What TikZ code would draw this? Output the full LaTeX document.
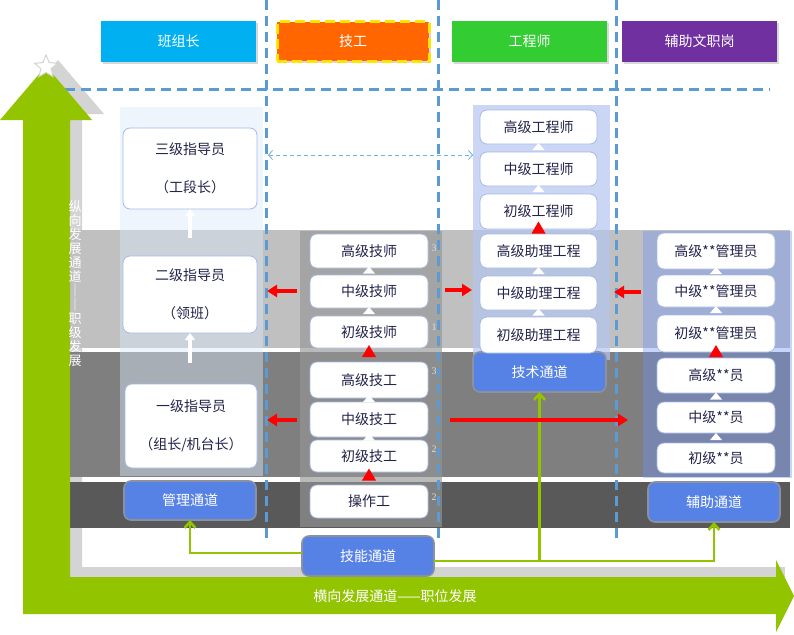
\documentclass[tikz,border=0pt]{standalone}
\usepackage{fontspec}
\setmainfont{Liberation Serif}
\newfontfamily\cjk{Noto Sans CJK SC}
\usetikzlibrary{arrows.meta,shapes.geometric,calc,shadows}
\definecolor{hdblue}{RGB}{0,176,240}
\definecolor{hdorange}{RGB}{255,102,0}
\definecolor{hdgreen}{RGB}{51,204,51}
\definecolor{hdpurple}{RGB}{112,48,160}
\definecolor{dashblue}{RGB}{91,155,213}
\definecolor{bandA}{RGB}{192,192,192}
\definecolor{bandB}{RGB}{127,127,127}
\definecolor{bandC}{RGB}{89,89,89}
\definecolor{arrowgreen}{RGB}{146,196,0}
\definecolor{chanblue}{RGB}{86,130,230}
\definecolor{chanedge}{RGB}{140,145,160}
\definecolor{boxedge}{RGB}{165,185,230}
\definecolor{txtdark}{RGB}{35,35,75}
\definecolor{shadowgray}{RGB}{212,212,212}
\definecolor{colL}{RGB}{218,233,250}
\definecolor{colT}{RGB}{150,150,150}
\definecolor{colE}{RGB}{180,198,240}
\definecolor{colF}{RGB}{110,145,250}
\definecolor{yel}{RGB}{255,230,0}
\definecolor{lightarrow}{RGB}{110,175,225}
\definecolor{digitgray}{RGB}{222,222,222}
\newcommand\myredtri[2]{\fill[red] ($(#1.north)!0.5!(#2.south)+(-7,2)$) -- ($(#1.north)!0.5!(#2.south)+(7,2)$) -- ($(#1.north)!0.5!(#2.south)+(0,-10)$) -- cycle;}
\newcommand\mywhitetri[2]{\fill[white] ($(#1.north)!0.5!(#2.south)+(-6,2)$) -- ($(#1.north)!0.5!(#2.south)+(6,2)$) -- ($(#1.north)!0.5!(#2.south)+(0,-5)$) -- cycle;}
\begin{document}
\begin{tikzpicture}[x=1pt,y=-1pt,
  every node/.style={inner sep=0pt, outer sep=0pt},
  hdr/.style={minimum width=155, minimum height=41, text=white, font=\cjk\fontsize{14}{16}\selectfont,
     drop shadow={opacity=0.3, shadow xshift=2pt, shadow yshift=-2pt}},
  wbox/.style={draw=boxedge, line width=0.8pt, fill=white, rounded corners=7pt, text=txtdark, font=\cjk\fontsize{14}{16}\selectfont},
  bigbox/.style={wbox, align=center, font=\cjk\fontsize{14}{38}\selectfont},
  chan/.style={draw=chanedge, line width=1.6pt, fill=chanblue, rounded corners=7pt, text=white, font=\cjk\fontsize{14}{16}\selectfont},
  dashln/.style={draw=dashblue, line width=3pt, dash pattern=on 10pt off 6pt},
  redarr/.style={draw=red, line width=3.5pt, -{Triangle[length=10pt,width=12pt]}},
  garr/.style={draw=arrowgreen, line width=2.6pt, -{Straight Barb[length=6pt,width=11pt]}},
  uparr/.style={draw=white, line width=3.2pt, -{Triangle[length=7pt,width=10pt]}},
  digit/.style={text=digitgray, font=\fontsize{10}{11}\selectfont}
]
\useasboundingbox (0,0) rectangle (794,634);
\fill[white] (0,0) rectangle (794,634);

% shadow of vertical arrow and frame
\fill[shadowgray] (35,577) -- (35,114) -- (12,114) -- (58,60) -- (104,114) -- (82,114) -- (82,577) -- cycle;
\fill[shadowgray] (70,567) rectangle (785,577);

% level bands
\fill[bandA] (70,230) rectangle (790,348);
\fill[bandB] (70,352) rectangle (790,477);
\fill[bandC] (70,482) rectangle (790,528);

% column overlays
\fill[colL, opacity=0.45] (120,107) rectangle (263,476);
\fill[colT, opacity=0.65] (300,231) rectangle (442,527);
\fill[colE, opacity=0.7] (473,105) rectangle (610,360);
\fill[colF, opacity=0.38] (643,231) rectangle (792,478);

% dashed grid lines
\draw[dashln] (266,0) -- (266,540);
\draw[dashln] (438,0) -- (438,540);
\draw[dashln] (616,0) -- (616,540);
\draw[dashln] (65,89) -- (770,89);

% big green L arrow
\fill[arrowgreen] (23,614) -- (23,120) -- (0,120) -- (46,66) -- (92,120) -- (70,120) -- (70,577)
  -- (776,577) -- (776,560) -- (794,596) -- (776,632) -- (776,614) -- cycle;
\node[star, star points=5, star point ratio=2.2, minimum size=24, fill=white, draw=shadowgray, line width=1pt] (star) at (46,67) {};
\node[text=white, align=center, font=\cjk\fontsize{13}{14}\selectfont] (vt) at (75,284)
  {纵\\向\\发\\展\\通\\道\\｜\\｜\\职\\级\\发\\展};
\node[text=white, font=\cjk\fontsize{14}{16}\selectfont] (bt) at (395,596) {横向发展通道——职位发展};

% headers
\node[hdr, fill=hdblue] (h1) at (178.5,41.5) {班组长};
\node[hdr, fill=hdorange, draw=yel, line width=3pt, dash pattern=on 10pt off 5pt, minimum width=152, minimum height=39] (h2) at (353,41.5) {技工};
\node[hdr, fill=hdgreen] (h3) at (529.5,41.5) {工程师};
\node[hdr, fill=hdpurple] (h4) at (699.5,41.5) {辅助文职岗};

% left column (management)
\node[bigbox, minimum width=134, minimum height=81] (s3) at (190,168.5) {三级指导员\\（工段长）};
\node[bigbox, minimum width=134, minimum height=77] (s2) at (190,294.5) {二级指导员\\（领班）};
\node[bigbox, minimum width=132, minimum height=84] (s1) at (191,426) {一级指导员\\（组长/机台长）};
\node[chan, minimum width=132, minimum height=39] (gl) at (190,500.5) {管理通道};
\draw[uparr] ($(s3.south)+(0,29)$) -- (s3.south);
\draw[uparr] ($(s2.south)+(0,30)$) -- (s2.south);

% technician column
\node[wbox, minimum width=118, minimum height=34] (t6) at (369,251) {高级技师};
\node[wbox, minimum width=118, minimum height=33] (t5) at (369,291.5) {中级技师};
\node[wbox, minimum width=118, minimum height=32] (t4) at (369,332) {初级技师};
\node[wbox, minimum width=118, minimum height=36] (t3) at (369,380) {高级技工};
\node[wbox, minimum width=118, minimum height=35] (t2) at (369,419.5) {中级技工};
\node[wbox, minimum width=118, minimum height=32] (t1) at (369,456) {初级技工};
\node[wbox, minimum width=118, minimum height=33] (t0) at (369,501.5) {操作工};
\mywhitetri{t5}{t6}
\mywhitetri{t4}{t5}
\mywhitetri{t2}{t3}
\mywhitetri{t1}{t2}
\myredtri{t3}{t4}
\myredtri{t0}{t1}
\node[digit] (d1) at (434,248) {3};
\node[digit] (d2) at (434,327) {1};
\node[digit] (d3) at (434,371) {3};
\node[digit] (d4) at (434,449) {2};
\node[digit] (d5) at (434,497) {2};

% engineer column
\node[chan, minimum width=133, minimum height=40] (js) at (539.5,372) {技术通道};
\node[wbox, minimum width=117, minimum height=34] (e6) at (538.5,127) {高级工程师};
\node[wbox, minimum width=117, minimum height=34] (e5) at (538.5,169) {中级工程师};
\node[wbox, minimum width=117, minimum height=35] (e4) at (538.5,211.5) {初级工程师};
\node[wbox, minimum width=117, minimum height=34] (e3) at (538.5,251) {高级助理工程};
\node[wbox, minimum width=117, minimum height=34] (e2) at (538.5,293) {中级助理工程};
\node[wbox, minimum width=117, minimum height=36] (e1) at (538.5,335) {初级助理工程};
\mywhitetri{e5}{e6}
\mywhitetri{e4}{e5}
\mywhitetri{e2}{e3}
\mywhitetri{e1}{e2}
\myredtri{e3}{e4}

% auxiliary column
\node[wbox, minimum width=118, minimum height=36] (f6) at (716,251) {高级**管理员};
\node[wbox, minimum width=118, minimum height=32] (f5) at (716,291) {中级**管理员};
\node[wbox, minimum width=118, minimum height=37] (f4) at (716,333.5) {初级**管理员};
\node[wbox, minimum width=118, minimum height=35] (f3) at (716,375.5) {高级**员};
\node[wbox, minimum width=118, minimum height=31] (f2) at (716,417.5) {中级**员};
\node[wbox, minimum width=118, minimum height=30] (f1) at (716,458) {初级**员};
\node[chan, minimum width=132, minimum height=40] (fz) at (714,502) {辅助通道};
\mywhitetri{f5}{f6}
\mywhitetri{f4}{f5}
\mywhitetri{f2}{f3}
\mywhitetri{f1}{f2}
\myredtri{f3}{f4}

% skill channel and green connectors
\node[chan, minimum width=132, minimum height=40] (jn) at (368,556) {技能通道};
\coordinate (jl) at ($(jn.west)+(0,-3)$);
\coordinate (jr) at ($(jn.east)+(0,5)$);
\draw[garr] (jl) -| (gl.south);
\draw[garr] (jr) -| (fz.south);
\draw[garr] (jr -| js.south) -- (js.south);

% red transfer arrows
\coordinate (ra1) at (297,291);  \coordinate (rb1) at (267,291);
\coordinate (ra2) at (297,420);  \coordinate (rb2) at (267,420);
\coordinate (ra3) at (445,290);  \coordinate (rb3) at (472,290);
\coordinate (ra4) at (641,292);  \coordinate (rb4) at (614,292);
\coordinate (ra5) at (450,420);  \coordinate (rb5) at (628,420);
\draw[redarr] (ra1) -- (rb1);
\draw[redarr] (ra2) -- (rb2);
\draw[redarr] (ra3) -- (rb3);
\draw[redarr] (ra4) -- (rb4);
\draw[redarr] (ra5) -- (rb5);

% light dashed double arrow
\coordinate (la) at (268,155);
\coordinate (lb) at (473,155);
\draw[lightarrow, line width=0.8pt, dash pattern=on 4pt off 3pt,
  {Straight Barb[length=4pt,width=9pt]}-{Straight Barb[length=4pt,width=9pt]}] (la) -- (lb);
\end{tikzpicture}
\end{document}
